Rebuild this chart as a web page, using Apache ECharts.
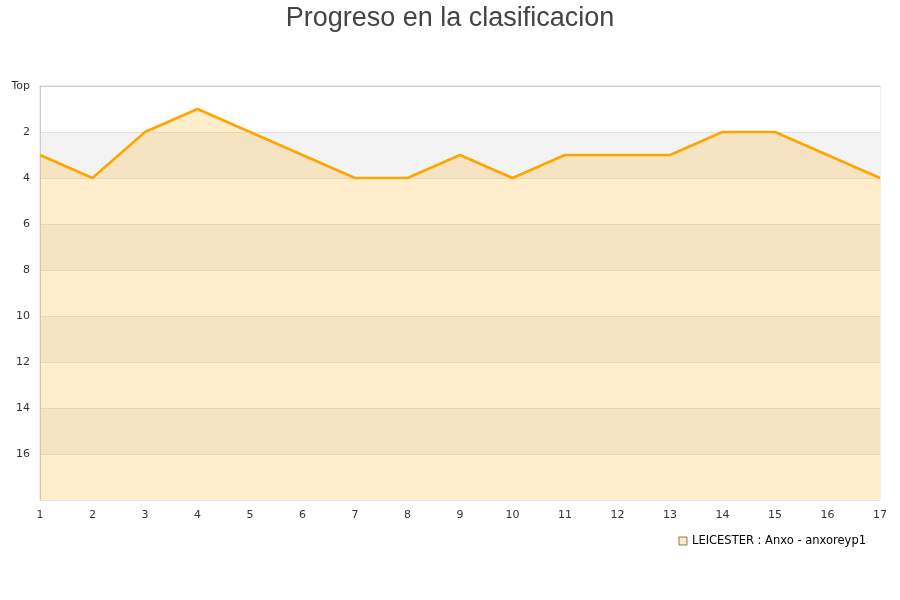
<!DOCTYPE html>
<html>
<head>
<meta charset="utf-8">
<script src="https://cdn.jsdelivr.net/npm/echarts@6/dist/echarts.min.js"></script>
<style>html,body{margin:0;padding:0;background:#fff}#c{width:900px;height:600px}</style>
</head>
<body>
<div id="c"></div>
<script>
var jornadas = ['1','2','3','4','5','6','7','8','9','10','11','12','13','14','15','16','17'];
var posiciones = [3,4,2,1,2,3,4,4,3,4,3,3,3,2,2,3,4];
var seriesName = 'LEICESTER : Anxo - anxoreyp1';
var titulo = 'Progreso en la clasificacion';
var yName = 'Posicion';

var chart = echarts.init(document.getElementById('c'));
chart.setOption({
  animation: false,
  title: {
    text: titulo, left: 'center', top: 0,
    textStyle: {fontFamily: 'Liberation Sans', fontSize: 27, fontWeight: 'normal', color: '#444'}
  },
  legend: {
    right: 29, top: 530, itemWidth: 8, itemHeight: 8, icon: 'rect', itemGap: 10,
    textStyle: {fontFamily: 'DejaVu Sans', fontSize: 11.5, color: '#000'},
    data: [{name: seriesName, itemStyle: {color: '#fde9c4', borderColor: '#8a7a5a', borderWidth: 1}}]
  },
  grid: {left: 40, right: 20, top: 86, bottom: 100, outerBoundsMode: 'none', containLabel: false,
         show: true, borderColor: '#dddddd', borderWidth: 1},
  xAxis: {
    type: 'category', data: jornadas, boundaryGap: false,
    axisLine: {lineStyle: {color: '#cccccc'}},
    axisTick: {show: false},
    axisLabel: {color: '#333', fontFamily: 'DejaVu Sans', fontSize: 11, margin: 10}
  },
  yAxis: {
    type: 'value', inverse: true, min: 0, max: 18, interval: 2,
    name: yName, nameLocation: 'middle', nameGap: 28,
    nameTextStyle: {fontFamily: 'DejaVu Sans', fontSize: 11, color: '#333'},
    axisLine: {show: true, lineStyle: {color: '#cccccc'}},
    axisTick: {show: false},
    axisLabel: {
      color: '#333', fontFamily: 'DejaVu Sans', fontSize: 11, margin: 10,
      formatter: function (v) { return v === 0 ? 'Top' : (v === 18 ? '' : String(v)); }
    },
    splitLine: {show: true, lineStyle: {color: '#e3e3e3'}},
    splitArea: {show: true, areaStyle: {color: ['#ffffff', '#f3f3f3']}}
  },
  series: [{
    name: seriesName, type: 'line', data: posiciones,
    symbol: 'none', lineStyle: {color: '#ffa500', width: 2.5},
    itemStyle: {color: '#ffa500'},
    areaStyle: {color: '#ffa500', opacity: 0.2, origin: 'end'}
  }]
});
</script>
</body>
</html>
